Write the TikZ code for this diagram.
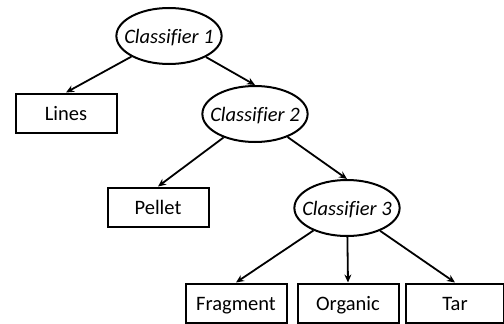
\documentclass[tikz,border=0pt]{standalone}
\usepackage{fontspec}
\setmainfont[Ligatures=NoCommon]{Carlito}
\usetikzlibrary{shapes.geometric,arrows.meta}
\begin{document}
\begin{tikzpicture}[x=1pt,y=-1pt,
  every node/.style={font=\fontsize{20.5}{24}\selectfont},
  leaf/.style={draw,line width=2pt,minimum width=101pt,minimum height=39pt,inner sep=0pt,
    text height=14pt,text depth=0pt},
  clf/.style={draw,ellipse,line width=2pt,inner xsep=-7.5pt,inner ysep=12.3pt,
    text height=15pt,text depth=0pt,font=\fontsize{20.5}{24}\selectfont\itshape},
  arr/.style={-{Stealth[length=8pt,width=7pt]},line width=1.8pt}]
  \useasboundingbox (0,0) rectangle (504,324);
  \node[clf] (C1) at (169,36) {Classifier 1};
  \node[clf] (C2) at (255,114) {Classifier 2};
  \node[clf] (C3) at (347,208) {Classifier 3};
  \node[leaf] (L) at (66,113) {Lines};
  \node[leaf] (P) at (158,207) {Pellet};
  \node[leaf] (F) at (236,303) {Fragment};
  \node[leaf] (O) at (348,303) {Organic};
  \node[leaf,minimum width=98pt] (T) at (455,303) {Tar};
  \draw[arr] (C1) -- (L.north);
  \draw[arr] (C1) -- (C2.north);
  \draw[arr] (C2) -- (P.north);
  \draw[arr] (C2) -- (C3.north);
  \draw[arr] (C3) -- (F.north);
  \draw[arr] (C3) -- (O.north);
  \draw[arr] (C3) -- (T.north);
\end{tikzpicture}
\end{document}
